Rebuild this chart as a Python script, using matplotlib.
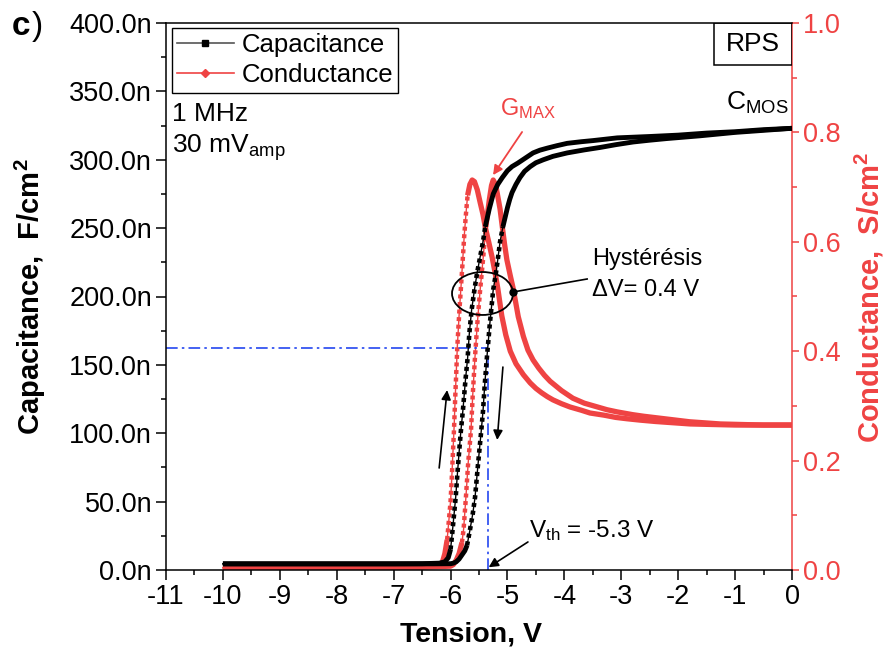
import numpy as np
import matplotlib
matplotlib.use("Agg")
import matplotlib.pyplot as plt
from matplotlib.patches import Ellipse, Rectangle
from matplotlib.lines import Line2D

plt.rcParams['font.family'] = ['Liberation Sans', 'DejaVu Sans']
plt.rcParams['mathtext.fontset'] = 'custom'
plt.rcParams['mathtext.rm'] = 'Liberation Sans'
plt.rcParams['mathtext.it'] = 'Liberation Sans:italic'
plt.rcParams['mathtext.bf'] = 'Liberation Sans:bold'
plt.rcParams['axes.unicode_minus'] = False

# ---------------- data ----------------
# Capacitance (nF/cm2), branch rising first (sweep up arrow)
cap_up_v = [-10.0, -9.0, -8.0, -7.0, -6.5, -6.2, -6.10, -6.04, -6.00, -5.97, -5.94, -5.91,
            -5.88, -5.85, -5.82, -5.78, -5.74, -5.70, -5.67, -5.63, -5.58, -5.53, -5.48,
            -5.43, -5.39, -5.32, -5.25, -5.17, -5.09, -5.00, -4.92, -4.82, -4.73, -4.64,
            -4.55, -4.43, -4.30, -4.13, -3.95, -3.70, -3.50, -3.07, -2.50, -2.00, -1.50,
            -1.00, -0.50, 0.0]
cap_up_c = [4.5, 4.5, 4.5, 4.5, 4.6, 5.0, 6.0, 9.0, 15, 27, 40, 53,
            70, 86, 101, 118, 138, 155, 173, 190, 205, 218, 229,
            240, 251, 264, 275, 282, 287, 292, 295, 297.5, 300, 302.5,
            305, 307, 308.5, 310.3, 312, 313.2, 314, 316, 317, 318, 319.5,
            320.5, 322, 323]
# Capacitance, second branch (sweep down arrow)
cap_dn_v = [-10.0, -9.0, -8.0, -7.0, -6.3, -6.0, -5.95, -5.90, -5.85, -5.80, -5.75, -5.71,
            -5.66, -5.61, -5.57, -5.52, -5.46, -5.43, -5.40, -5.36, -5.31, -5.25, -5.21,
            -5.17, -5.13, -5.08, -5.04, -5.00, -4.96, -4.92, -4.85, -4.78, -4.70, -4.60,
            -4.50, -4.37, -4.20, -3.95, -3.65, -3.37, -3.10, -2.79, -2.50, -2.20, -1.62,
            -1.00, -0.50, 0.0]
cap_dn_c = [4.5, 4.5, 4.5, 4.5, 4.5, 4.6, 5.0, 6.0, 8.0, 11, 14, 18,
            29, 41, 53, 76, 102, 116, 135, 156, 180, 205, 215,
            227, 240, 251, 258, 265, 271, 276, 282, 287, 291.5, 295,
            297.8, 300, 302.5, 305, 307.2, 309, 311, 313, 314.3, 315.5, 317.5,
            320, 321.5, 323]
# Conductance (S/cm2), first branch (left peak)
g_up_v = [-10.0, -9.0, -8.0, -7.0, -6.5, -6.25, -6.15, -6.10, -6.06, -6.03, -6.00, -5.98,
          -5.96, -5.94, -5.92, -5.90, -5.88, -5.85, -5.82, -5.79, -5.76, -5.73, -5.70,
          -5.66, -5.62, -5.58, -5.53, -5.48, -5.43, -5.39, -5.33, -5.27, -5.22, -5.17,
          -5.10, -5.03, -4.95, -4.85, -4.72, -4.60, -4.50, -4.40, -4.30, -4.20, -4.05,
          -3.90, -3.70, -3.55, -3.30, -3.10, -2.90, -2.67, -2.40, -2.20, -1.79, -1.40,
          -1.00, -0.50, 0.0]
g_up_g = [0.004, 0.004, 0.004, 0.005, 0.006, 0.008, 0.012, 0.03, 0.055, 0.09, 0.125, 0.165,
          0.21, 0.255, 0.31, 0.36, 0.41, 0.465, 0.512, 0.56, 0.61, 0.65, 0.685,
          0.705, 0.713, 0.71, 0.695, 0.672, 0.65, 0.627, 0.60, 0.572, 0.545, 0.515,
          0.465, 0.43, 0.40, 0.377, 0.357, 0.342, 0.332, 0.324, 0.317, 0.311, 0.304,
          0.298, 0.292, 0.287, 0.283, 0.279, 0.2765, 0.274, 0.2715, 0.270, 0.267, 0.266,
          0.265, 0.265, 0.265]
# Conductance, second branch (right peak)
g_dn_v = [-10.0, -9.0, -8.0, -7.0, -6.5, -6.0, -5.95, -5.90, -5.85, -5.80, -5.77, -5.73,
          -5.69, -5.64, -5.61, -5.57, -5.53, -5.48, -5.43, -5.38, -5.32, -5.28, -5.25,
          -5.21, -5.18, -5.13, -5.09, -5.05, -5.01, -4.95, -4.90, -4.81, -4.72, -4.64,
          -4.55, -4.45, -4.35, -4.25, -4.05, -3.85, -3.65, -3.45, -3.25, -3.07, -2.80,
          -2.60, -2.20, -1.80, -1.26, -0.50, 0.0]
g_dn_g = [0.004, 0.004, 0.004, 0.005, 0.005, 0.007, 0.010, 0.018, 0.03, 0.05, 0.075, 0.133,
          0.196, 0.256, 0.32, 0.39, 0.45, 0.512, 0.567, 0.627, 0.676, 0.703, 0.713,
          0.705, 0.689, 0.66, 0.627, 0.595, 0.567, 0.538, 0.515, 0.463, 0.427, 0.402,
          0.384, 0.369, 0.356, 0.345, 0.328, 0.314, 0.305, 0.299, 0.293, 0.289, 0.284,
          0.281, 0.276, 0.271, 0.267, 0.265, 0.265]

x_ticks = list(range(-11, 1))
cap_ticks = [0, 50, 100, 150, 200, 250, 300, 350, 400]
g_ticks = [0.0, 0.2, 0.4, 0.6, 0.8, 1.0]

# annotation values
v_th = -5.34
c_th = 162.3

RED = '#EF4343'
BLUE = '#2447F0'

fig = plt.figure(figsize=(8.84, 6.57), dpi=100)
ax = fig.add_axes([166/884, 1-570/657, 626/884, 547/657])
ax2 = ax.twinx()
ax.set_xlim(-11, 0)
ax.set_ylim(0, 400)
ax2.set_ylim(0, 1.0)
ax.set_zorder(ax2.get_zorder() + 1)
ax.patch.set_visible(False)


def draw_branch(axis, v, y, color, lw_solid, lw_thin, dot_lw, ratio, z=3):
    v = np.asarray(v, float)
    y = np.asarray(y, float)
    pts = axis.transData.transform(np.column_stack([v, y]))
    dx = np.abs(np.diff(pts[:, 0]))
    dy = np.abs(np.diff(pts[:, 1]))
    steep = dy > ratio * np.maximum(dx, 1e-9)
    axis.plot(v, y, color=color, lw=lw_thin, zorder=z)
    n = len(steep)
    i = 0
    while i < n:
        j = i
        while j + 1 < n and steep[j + 1] == steep[i]:
            j += 1
        seg = slice(i, j + 2)
        if steep[i]:
            axis.plot(v[seg], y[seg], color=color, lw=dot_lw, ls=(0, (0.9, 0.8)),
                      dash_capstyle='butt', zorder=z)
        else:
            axis.plot(v[seg], y[seg], color=color, lw=lw_solid,
                      solid_capstyle='butt', solid_joinstyle='round', zorder=z)
        i = j + 1


draw_branch(ax2, g_up_v, g_up_g, RED, 3.8, 1.0, 3.2, 8)
draw_branch(ax2, g_dn_v, g_dn_g, RED, 3.8, 1.0, 3.2, 8)
draw_branch(ax, cap_up_v, cap_up_c, 'black', 3.5, 1.0, 3.3, 5)
draw_branch(ax, cap_dn_v, cap_dn_c, 'black', 3.5, 1.0, 3.3, 5)

# threshold lines
ax.plot([-11, v_th], [c_th, c_th], color=BLUE, lw=1.2, ls=(0, (7, 2.5, 1.5, 2.5)), zorder=2)
ax.plot([v_th, v_th], [0, c_th + 4], color=BLUE, lw=1.2, ls=(0, (7, 2.5, 1.5, 2.5)), zorder=2)

# ticks
ax.set_xticks(x_ticks)
ax.set_xticklabels([str(t) for t in x_ticks])
ax.set_xticks(np.arange(-10.5, 0, 1.0), minor=True)
ax.set_yticks(cap_ticks)
ax.set_yticklabels([f"{t:.1f}n" for t in cap_ticks])
ax.set_yticks(np.arange(25, 400, 50), minor=True)
ax2.set_yticks(g_ticks)
ax2.set_yticklabels([f"{t:.1f}" for t in g_ticks])
ax2.set_yticks(np.arange(0.1, 1.0, 0.2), minor=True)

ax.tick_params(axis='both', which='major', direction='out', length=7, width=1.1,
               labelsize=19.5, pad=3)
ax.tick_params(axis='both', which='minor', direction='out', length=3.5, width=1.1)
ax.tick_params(axis='y', which='both', right=False)
ax2.tick_params(axis='y', which='major', direction='out', length=5, width=1.1,
                colors=RED, labelsize=19.5, pad=3)
ax2.tick_params(axis='y', which='minor', direction='out', length=3.5, width=1.1, colors=RED)

for s in ['left', 'top', 'bottom']:
    ax.spines[s].set_linewidth(1.1)
    ax2.spines[s].set_visible(False)
ax.spines['right'].set_visible(False)
ax2.spines['right'].set_color(RED)
ax2.spines['right'].set_linewidth(1.1)

# axis labels
fig.text(30/884, 1-297/657, r'Capacitance,  F/cm$^{\mathbf{2}}$', rotation=90,
         ha='center', va='center', fontsize=21, fontweight='bold')
fig.text(869/884, 1-297/657, r'Conductance,  S/cm$^{\mathbf{2}}$', rotation=90,
         ha='center', va='center', fontsize=21, fontweight='bold', color=RED)
fig.text(471/884, 1-634/657, 'Tension, V', ha='center', va='center',
         fontsize=20.5, fontweight='bold')

# panel label
fig.text(12/884, 1-35/657, 'c', ha='left', va='baseline', fontsize=24, fontweight='bold')
fig.text(32/884, 1-35/657, ')', ha='left', va='baseline', fontsize=24)

# legend
handles = [Line2D([], [], color='#555555', lw=1.2, marker='s', ms=5, mfc='k', mec='k'),
           Line2D([], [], color=RED, lw=1.2, marker='D', ms=4, mfc=RED, mec=RED)]
leg = ax.legend(handles, ['Capacitance', 'Conductance'], loc='upper left',
                bbox_to_anchor=(0.0096, 0.991), fontsize=18.5, frameon=True,
                fancybox=False, edgecolor='k', framealpha=1, borderpad=0.2,
                handlelength=2.2, handletextpad=0.3, labelspacing=0.25,
                borderaxespad=0)
leg.get_frame().set_linewidth(1.0)

# texts
ax.text(0.0096, 0.820, '1 MHz', transform=ax.transAxes, fontsize=19, va='baseline')
ax.text(0.0096, 0.762, r'30 mV$_{\mathrm{amp}}$', transform=ax.transAxes,
        fontsize=19, va='baseline')
ax.text(0.995, 0.841, r'C$_{\mathrm{MOS}}$', transform=ax.transAxes, fontsize=19,
        va='baseline', ha='right')
ax.text(0.5335, 0.832, r'G$_{\mathrm{MAX}}$', transform=ax.transAxes, fontsize=17,
        va='baseline', ha='left', color=RED)
ax.add_patch(Rectangle((0.875, 0.923), 0.1246, 0.077, transform=ax.transAxes,
                       fill=False, ec='k', lw=1.1, zorder=5))
ax.text(0.9373, 0.9615, 'RPS', transform=ax.transAxes, fontsize=19,
        ha='center', va='center', zorder=6)

ax.text(-3.51, 223, 'Hystérésis', fontsize=17, va='baseline', ha='left')
ax.text(-3.51, 200, 'ΔV= 0.4 V', fontsize=17, va='baseline', ha='left')
ax.text(-4.62, 24, r'V$_{\mathrm{th}}$ = -5.3 V', fontsize=17.5, va='baseline', ha='left')

# ellipse and pointer
ax.add_patch(Ellipse((-5.438, 202.2), 1.072, 31.4, fill=False, ec='k', lw=1.3, zorder=6))
ax.plot([-4.90, -3.60], [203.3, 212.8], color='k', lw=1.2, zorder=6)
ax.plot([-4.90], [203.3], 'o', color='k', ms=5, zorder=7)

# arrows
arr = dict(arrowstyle='-|>', color='k', lw=1.2, mutation_scale=14, shrinkA=0, shrinkB=0)
ax.annotate('', xy=(-6.06, 131.6), xytext=(-6.20, 74.6), arrowprops=arr, zorder=7)
ax.annotate('', xy=(-5.18, 95.1), xytext=(-5.08, 148.4), arrowprops=arr, zorder=7)
ax.annotate('', xy=(-5.33, 2.0), xytext=(-4.64, 20.5), arrowprops=arr, zorder=7)
arr_r = dict(arrowstyle='-|>', color=RED, lw=1.3, mutation_scale=14, shrinkA=0, shrinkB=0)
ax.annotate('', xy=(-5.253, 288.8), xytext=(-4.743, 320.3), arrowprops=arr_r, zorder=7)

fig.savefig('out.png', dpi=100)
